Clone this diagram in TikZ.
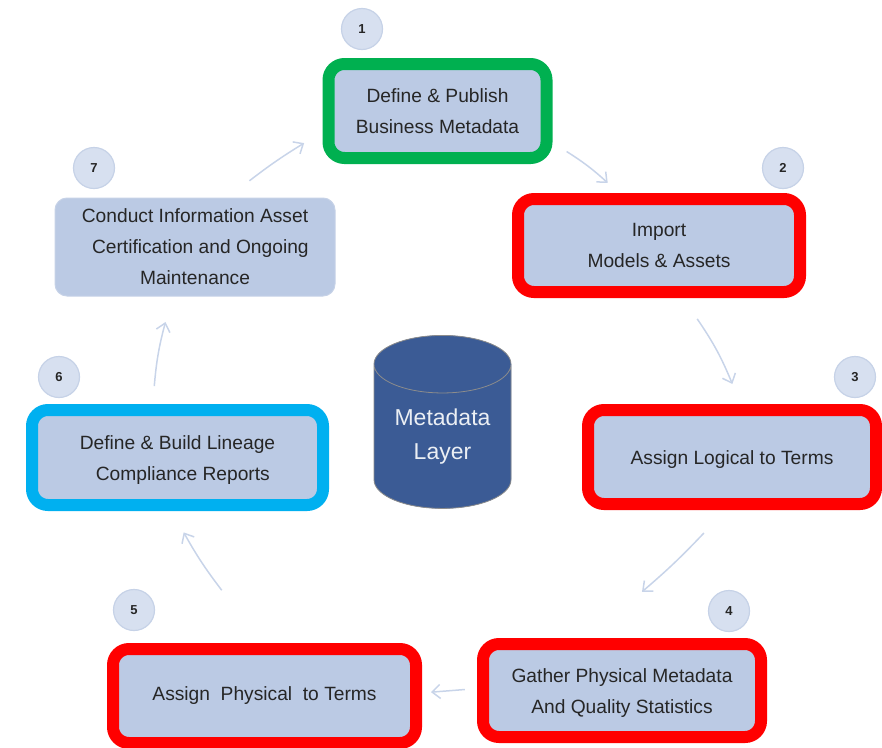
\documentclass[tikz,border=0pt]{standalone}
\usepackage{fontspec}
\setmainfont{Liberation Sans}
\usetikzlibrary{arrows.meta,calc,shapes.geometric}
\definecolor{boxfill}{HTML}{BBCAE4}
\definecolor{badgefill}{HTML}{D7E0F0}
\definecolor{badgeline}{HTML}{C6D2E7}
\definecolor{flowline}{HTML}{C8D4E9}
\definecolor{greenline}{HTML}{00B050}
\definecolor{cyanline}{HTML}{00B0F0}
\definecolor{cylfill}{HTML}{3B5B95}
\newcommand{\lowline}{\rule{0pt}{18pt}}
\tikzset{
	stepbox/.style={draw=#1,line width=12pt,fill=boxfill,rounded corners=16pt,outer sep=0pt,inner sep=0pt,
		align=center,text=black!85,font=\fontsize{19.2}{31}\selectfont},
	badge/.style={circle,draw=badgeline,line width=1.2pt,fill=badgefill,minimum size=41pt,inner sep=0pt,
		text=black!85,font=\fontsize{13}{15}\selectfont\bfseries},
	flow/.style={draw=flowline,line width=1.5pt,-{Straight Barb[quick,length=8pt,width=14pt]}}
}
\begin{document}
\begin{tikzpicture}[x=1pt,y=-1pt]
		\useasboundingbox (0,0) rectangle (882,747);
		
		% Boxes around the cycle
		\node[stepbox=greenline,minimum width=218pt,minimum height=94pt] (define) at (437.5,111) {Define \& Publish\\Business Metadata};
		\node[stepbox=red,minimum width=282pt,minimum height=93pt] (import) at (659,245.5) {Import\\Models \& Assets};
		\node[stepbox=red,minimum width=288pt,minimum height=94pt] (logical) at (732,457) {\lowline Assign Logical to Terms};
		\node[stepbox=red,minimum width=278pt,minimum height=93pt] (gather) at (622,690.5) {\lowline Gather Physical Metadata\\And Quality Statistics};
		\node[stepbox=red,minimum width=303pt,minimum height=94pt] (physical) at (264.5,696) {Assign\ \ Physical\ \ to Terms};
		\node[stepbox=cyanline,minimum width=291pt,minimum height=95pt] (lineage) at (177.5,457.5) {\lowline Define \& Build Lineage\\\ \ Compliance Reports};
		\node[stepbox=badgeline,line width=1pt,rounded corners=12pt,minimum width=280pt,minimum height=98pt] (certify) at (195,247) {Conduct Information Asset\\\ \ Certification and Ongoing\\Maintenance};
		
		% Numbered badges
		\node[badge] (one) at (362,29) {1};
		\node[badge] (two) at (783,168) {2};
		\node[badge] (three) at (855,377) {3};
		\node[badge] (four) at (729,611) {4};
		\node[badge] (five) at (134,610) {5};
		\node[badge] (six) at (59,377) {6};
		\node[badge] (seven) at (94,168) {7};
		
		% Centre store
		\node[cylinder,shape border rotate=90,aspect=.6,draw=black!45,line width=0.8pt,fill=cylfill,
			cylinder uses custom fill,cylinder body fill=cylfill,cylinder end fill=cylfill,
			minimum width=137pt,minimum height=173pt,inner sep=0pt,align=center,text=white!90!cylfill,
			font=\fontsize{23}{34}\selectfont] (layer) at (442.5,436.5) {Metadata\\Layer};
		
		% Arrows between the steps
		\draw[flow] ($(define.-13)!.244!(import.123)$) to[bend left=5] ($(define.-13)!.744!(import.123)$);
		\draw[flow] ($(import.-63)!.228!(logical.73)$) to[bend left=6] ($(import.-63)!.78!(logical.73)$);
		\draw[flow] ($(logical.-87)!.207!(gather.127)$) to[bend left=3] ($(logical.-87)!.627!(gather.127)$);
		\draw[flow] ($(gather.179.4)!.27!(physical.1.1)$) to ($(gather.179.4)!.776!(physical.1.1)$);
		\draw[flow] ($(physical.95)!.408!(lineage.-104)$) to[bend left=4] ($(physical.95)!.81!(lineage.-104)$);
		\draw[flow] ($(lineage.120)!.21!(certify.-117.5)$) to[bend left=5] ($(lineage.120)!.772!(certify.-117.5)$);
		\draw[flow] ($(certify.59.4)!.24!(define.188)$) to[bend left=3] ($(certify.59.4)!.766!(define.188)$);
		
		\end{tikzpicture}
\end{document}
